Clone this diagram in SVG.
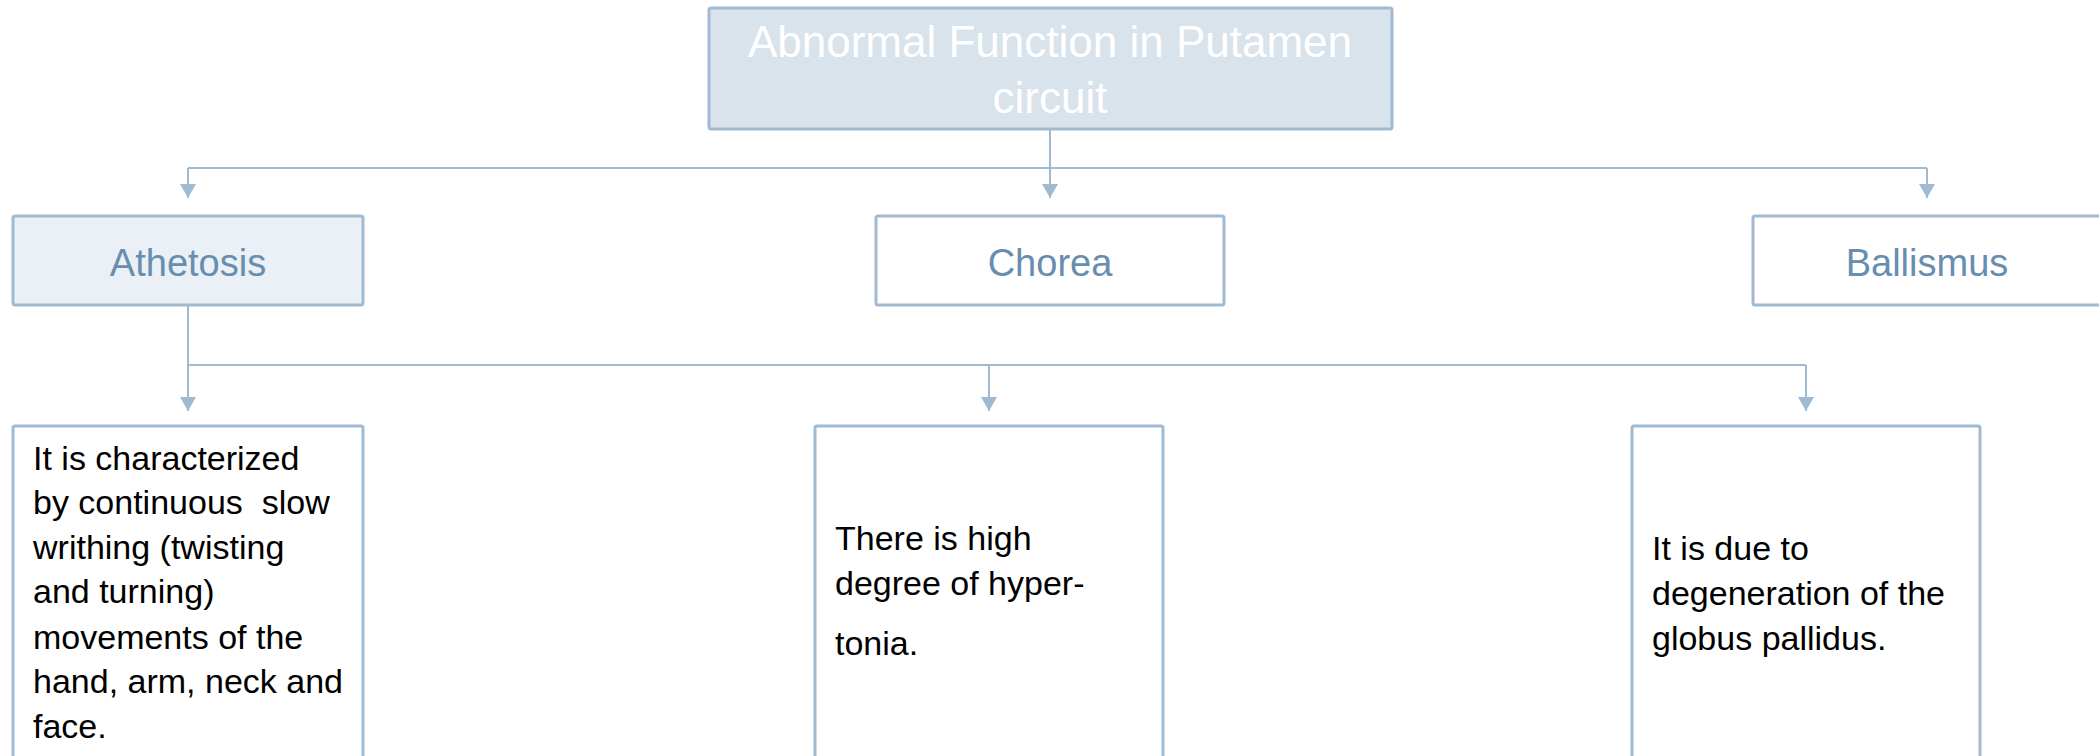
<svg xmlns="http://www.w3.org/2000/svg" width="2099" height="756" viewBox="0 0 2099 756">
  <style>
    .box { stroke: #a0bad2; stroke-width: 3; }
    .plain { fill: #ffffff; }
    .root { fill: #d9e3ec; }
    .soft { fill: #eaf0f5; }
    .title { font-family: "Liberation Sans", Arial, sans-serif; font-size: 44px; fill: #ffffff; text-anchor: middle; }
    .head { font-family: "Liberation Sans", Arial, sans-serif; font-size: 38px; fill: #678db0; text-anchor: middle; }
    .body { font-family: "Liberation Sans", Arial, sans-serif; font-size: 34px; fill: #000000; white-space: pre; }
    .link { fill: none; stroke: #a0bad2; stroke-width: 2; }
  </style>
  <defs>
    <marker id="arrow" viewBox="0 0 14 16" refX="14" refY="8" markerWidth="14" markerHeight="16" markerUnits="userSpaceOnUse" orient="auto">
      <path d="M0,0 L14,8 L0,16 z" fill="#a0bad2"/>
    </marker>
  </defs>

  <!-- connectors -->
  <g id="connectors">
    <path class="link" d="M1050,129 V168"/>
    <path class="link" d="M188,168 H1927"/>
    <path class="link" d="M188,168 V198" marker-end="url(#arrow)"/>
    <path class="link" d="M1050,168 V198" marker-end="url(#arrow)"/>
    <path class="link" d="M1927,168 V198" marker-end="url(#arrow)"/>
    <path class="link" d="M188,305 V365"/>
    <path class="link" d="M188,365 H1806"/>
    <path class="link" d="M188,365 V411" marker-end="url(#arrow)"/>
    <path class="link" d="M989,365 V411" marker-end="url(#arrow)"/>
    <path class="link" d="M1806,365 V411" marker-end="url(#arrow)"/>
  </g>

  <!-- root -->
  <g id="putamen">
    <rect class="box root" x="709" y="8" width="683" height="121" rx="2"/>
    <text class="title" x="1050" y="57">Abnormal Function in Putamen</text>
    <text class="title" x="1050" y="113">circuit</text>
  </g>

  <!-- disorders -->
  <g id="athetosis">
    <rect class="box soft" x="13" y="216" width="350" height="89" rx="2"/>
    <text class="head" x="188" y="276">Athetosis</text>
  </g>
  <g id="chorea">
    <rect class="box plain" x="876" y="216" width="348" height="89" rx="2"/>
    <text class="head" x="1050" y="276">Chorea</text>
  </g>
  <g id="ballismus">
    <rect class="box plain" x="1753" y="216" width="350" height="89" rx="2"/>
    <text class="head" x="1927" y="276">Ballismus</text>
  </g>

  <!-- descriptions -->
  <g id="athetosis-desc">
    <rect class="box plain" x="13" y="426" width="350" height="380" rx="2"/>
    <text class="body" x="33" y="470">It is characterized</text>
    <text class="body" x="33" y="514" xml:space="preserve">by continuous  slow</text>
    <text class="body" x="33" y="559">writhing (twisting</text>
    <text class="body" x="33" y="603">and turning)</text>
    <text class="body" x="33" y="649">movements of the</text>
    <text class="body" x="33" y="693">hand, arm, neck and</text>
    <text class="body" x="33" y="738">face.</text>
  </g>
  <g id="chorea-desc">
    <rect class="box plain" x="815" y="426" width="348" height="380" rx="2"/>
    <text class="body" x="835" y="550">There is high</text>
    <text class="body" x="835" y="595">degree of hyper-</text>
    <text class="body" x="835" y="655">tonia.</text>
  </g>
  <g id="ballismus-desc">
    <rect class="box plain" x="1632" y="426" width="348" height="380" rx="2"/>
    <text class="body" x="1652" y="560">It is due to</text>
    <text class="body" x="1652" y="605">degeneration of the</text>
    <text class="body" x="1652" y="650">globus pallidus.</text>
  </g>
</svg>
